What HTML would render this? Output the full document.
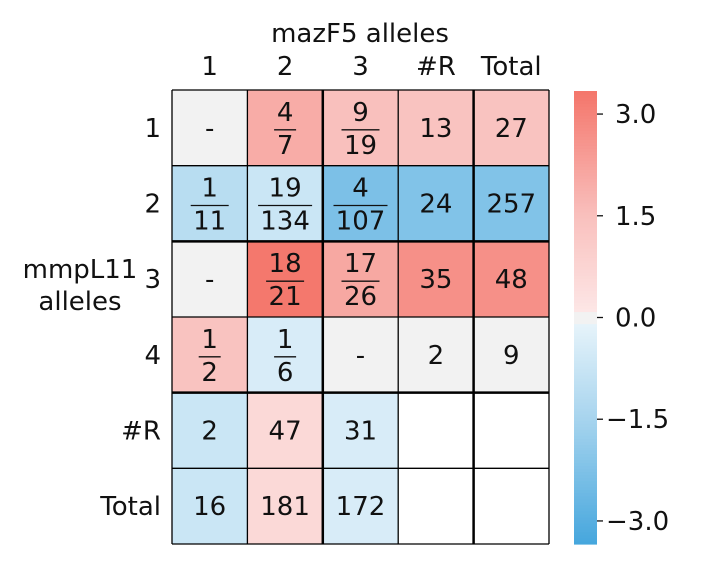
<!DOCTYPE html>
<html><head><meta charset="utf-8"><style>
html,body{margin:0;padding:0;background:#fff;}
svg text{font-family:"DejaVu Sans","Liberation Sans",sans-serif;fill:#111;}
</style></head><body>
<svg id="chart" width="703" height="567" viewBox="0 0 703 567" xmlns="http://www.w3.org/2000/svg">
<g id="cells"></g>
<g id="labels"></g>
<g id="grid"></g>
<g id="cbar"></g>
<text x="360" y="42" font-size="26" text-anchor="middle">mazF5 alleles</text>
<text x="80" y="278" font-size="26" text-anchor="middle">mmpL11</text>
<text x="80" y="310" font-size="26" text-anchor="middle">alleles</text>
<g id="xt"></g>
<g id="yt"></g>
</svg>
<script>
const colLabels=["1","2","3","#R","Total"];
const rowLabels=["1","2","3","4","#R","Total"];
const cellValues=[
 [0,2.0,1.5,1.4,1.4],
 [-1.1,-0.7,-2.3,-2.2,-2.2],
 [0,3.3,2.1,2.7,2.7],
 [1.4,-0.4,0,0,0],
 [-0.7,0.6,-0.4,null,null],
 [-0.7,0.6,-0.4,null,null]
];
const cellText=[
 ["-","4/7","9/19","13","27"],
 ["1/11","19/134","4/107","24","257"],
 ["-","18/21","17/26","35","48"],
 ["1/2","1/6","-","2","9"],
 ["2","47","31","",""],
 ["16","181","172","",""]
];
const cbTicks=[3.0,1.5,0.0,-1.5,-3.0];
const cbTickLabels=["3.0","1.5","0.0","\u22121.5","\u22123.0"];
const vmin=-3.34,vmax=3.34;

const NS="http://www.w3.org/2000/svg";
const X0=172,X1=549,Y0=90,Y1=544;
const cw=(X1-X0)/colLabels.length, ch=(Y1-Y0)/rowLabels.length;
const xPos=i=>X0+i*cw, yPos=j=>Y0+j*ch;
function mk(t,a,p){const e=document.createElementNS(NS,t);for(const k in a)e.setAttribute(k,a[k]);p.appendChild(e);return e;}
function lerp(a,b,t){return a.map((v,i)=>Math.round(v+(b[i]-v)*t));}
function color(v){
  if(v===null)return "#ffffff";
  if(Math.abs(v)<0.08)return "#f2f2f2";
  let t=Math.min(1,Math.abs(v)/vmax);
  let c;
  if(v>0){c=t<0.45?lerp([253,233,233],[249,192,189],t/0.45):lerp([249,192,189],[244,118,107],(t-0.45)/0.55);}
  else{c=t<0.45?lerp([234,245,251],[166,212,238],t/0.45):lerp([166,212,238],[69,166,221],(t-0.45)/0.55);}
  return "rgb("+c.join(",")+")";
}
const cells=document.getElementById('cells'),labels=document.getElementById('labels');
cellValues.forEach((row,j)=>row.forEach((v,i)=>{
  const r=mk('rect',{x:xPos(i),y:yPos(j),width:cw,height:ch,fill:color(v)},cells);
  
  
  const s=cellText[j][i];if(!s)return;
  const cx=xPos(i)+cw/2,cy=yPos(j)+ch/2;
  if(s.indexOf('/')>0){
    const [n,d]=s.split('/');
    const g=mk('g',{},labels);
    
    
    mk('text',{x:cx,y:cy-7,'font-size':26,'text-anchor':'middle'},g).textContent=n;
    mk('text',{x:cx,y:cy+26,'font-size':26,'text-anchor':'middle'},g).textContent=d;
    const w=Math.max(n.length,d.length)*16+6;
    mk('line',{x1:cx-w/2,x2:cx+w/2,y1:cy+2,y2:cy+2,stroke:'#111','stroke-width':1.3},g);
  }else{
    const t=mk('text',{x:cx,y:cy+9,'font-size':26,'text-anchor':'middle'},labels);
    
    
    t.textContent=s;
  }
}));
const grid=document.getElementById('grid');
for(let i=0;i<=colLabels.length;i++){const w=(i==2||i==4)?2.5:1.3;mk('line',{x1:xPos(i),x2:xPos(i),y1:Y0,y2:Y1,stroke:'#000','stroke-width':w},grid);}
for(let j=0;j<=rowLabels.length;j++){const w=(j==2||j==4)?2.5:1.3;mk('line',{x1:X0,x2:X1,y1:yPos(j),y2:yPos(j),stroke:'#000','stroke-width':w},grid);}
const xt=document.getElementById('xt'),yt=document.getElementById('yt');
colLabels.forEach((l,i)=>{const t=mk('text',{x:xPos(i)+cw/2,y:75,'font-size':26,'text-anchor':'middle'},xt);
 t.textContent=l;});
rowLabels.forEach((l,j)=>{const t=mk('text',{x:161,y:yPos(j)+ch/2+9,'font-size':26,'text-anchor':'end'},yt);
 t.textContent=l;});
const cb=document.getElementById('cbar');
const CB0=91,CB1=544,CBX=574,CBW=23;
const cy=v=>CB1-(v-vmin)/(vmax-vmin)*(CB1-CB0);
const N=150;
for(let k=0;k<N;k++){const v0=vmin+(vmax-vmin)*k/N,v1=vmin+(vmax-vmin)*(k+1)/N;
 mk('rect',{x:CBX,y:cy(v1),width:CBW,height:cy(v0)-cy(v1)+0.6,fill:color((v0+v1)/2)},cb);}
cbTicks.forEach((v,k)=>{
 mk('line',{x1:CBX+CBW,x2:CBX+CBW+6,y1:cy(v),y2:cy(v),stroke:'#111','stroke-width':1.3},cb);
 const t=mk('text',{x:CBX+CBW+18,y:cy(v)+9,'font-size':26},cb);
 
 if(v<0)t.setAttribute('x',CBX+CBW+9);
 t.textContent=cbTickLabels[k];
});
</script>
</body></html>
